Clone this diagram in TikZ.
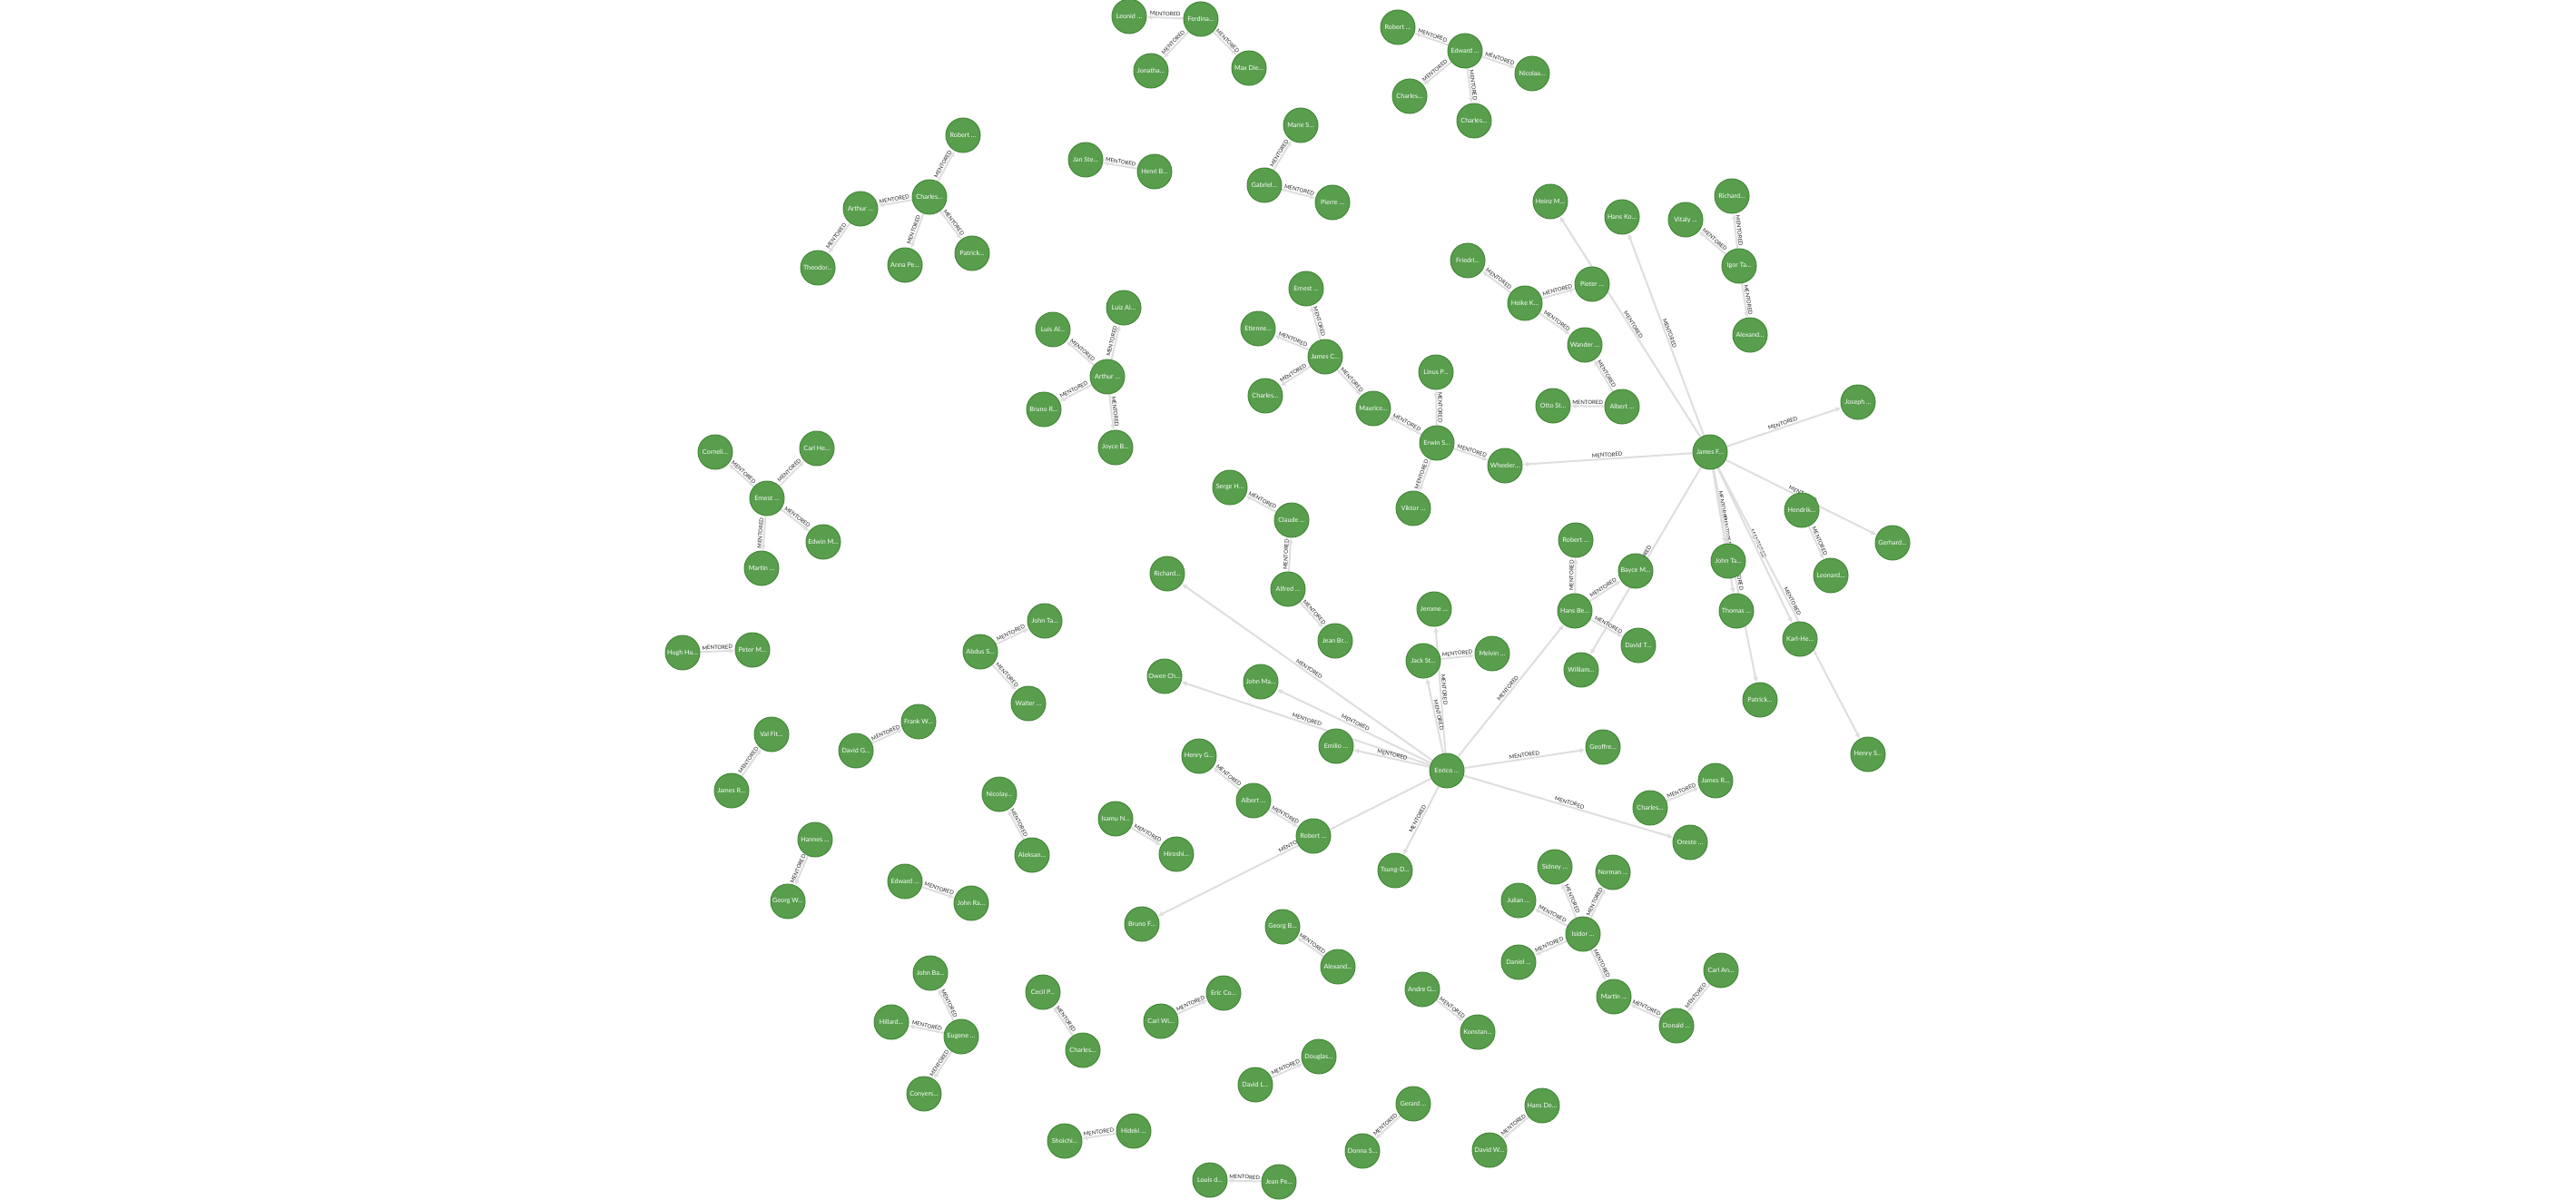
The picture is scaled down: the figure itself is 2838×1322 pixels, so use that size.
\documentclass[tikz,border=0pt]{standalone}
\usepackage{fontspec}
\setmainfont{Lato}
\usetikzlibrary{arrows.meta,backgrounds}
\definecolor{nodegreen}{RGB}{88,158,77}
\definecolor{nodeborder}{RGB}{70,137,58}
\definecolor{relgray}{RGB}{222,222,222}
\definecolor{lblgray}{RGB}{35,35,35}
\begin{document}
\begin{tikzpicture}[x=1pt, y=-1pt, >={Latex[length=6pt, width=6pt]},
  person/.style={circle, draw=nodeborder, line width=1pt, fill=nodegreen, minimum size=38pt,
    inner sep=0pt, text=white, font=\fontsize{7.2}{8}\selectfont},
  rel/.style={->, relgray, line width=2pt},
  lbl/.style={midway, sloped, above, inner sep=1pt, text=lblgray, font=\fontsize{6}{7}\selectfont}]
\useasboundingbox (0,0) rectangle (2838,1322);
% Ferdinand
\node[person] (leonid) at (1244,18) {Leonid …};
\node[person] (ferdina) at (1323,21) {Ferdina…};
\node[person] (jonatha) at (1268,78) {Jonatha…};
\node[person] (maxdie) at (1376,75) {Max Die…};
% Edward
\node[person] (robertE) at (1540,30) {Robert …};
\node[person] (edward) at (1614,56) {Edward …};
\node[person] (nicolaa) at (1688,81) {Nicolaa…};
\node[person] (charlesE1) at (1553,106) {Charles…};
\node[person] (charlesE2) at (1624,133) {Charles…};
% Charles (left top)
\node[person] (robertC) at (1061,149) {Robert …};
\node[person] (charlesC) at (1024,217) {Charles…};
\node[person] (arthurC) at (948,230) {Arthur …};
\node[person] (theodor) at (901,295) {Theodor…};
\node[person] (annape) at (997,292) {Anna Pe…};
\node[person] (patrickC) at (1071,279) {Patrick…};
% Henri / Jan
\node[person] (janste) at (1196,176) {Jan Ste…};
\node[person] (henrib) at (1272,189) {Henri B…};
% Gabriel
\node[person] (maries) at (1433,138) {Marie S…};
\node[person] (gabriel) at (1393,204) {Gabriel…};
\node[person] (pierre) at (1468,223) {Pierre …};
% Igor
\node[person] (vitaly) at (1857,242) {Vitaly …};
\node[person] (richardI) at (1908,216) {Richard…};
\node[person] (igor) at (1916,293) {Igor Ta…};
\node[person] (alexandI) at (1928,369) {Alexand…};
% Heike
\node[person] (friedri) at (1617,287) {Friedri…};
\node[person] (heike) at (1680,334) {Heike K…};
\node[person] (pieter) at (1754,313) {Pieter …};
\node[person] (wander) at (1746,380) {Wander …};
\node[person] (otto) at (1711,447) {Otto St…};
\node[person] (albertH) at (1787,448) {Albert …};
% James F
\node[person] (heinz) at (1708,222) {Heinz M…};
\node[person] (hansko) at (1787,239) {Hans Ko…};
\node[person] (jamesF) at (1884,498) {James F…};
\node[person] (joseph) at (2047,443) {Joseph …};
\node[person] (hendrik) at (1985,562) {Hendrik…};
\node[person] (gerhard) at (2085,598) {Gerhard…};
\node[person] (leonard) at (2017,634) {Leonard…};
\node[person] (johntaF) at (1904,618) {John Ta…};
\node[person] (thomas) at (1913,673) {Thomas …};
\node[person] (karlhe) at (1983,704) {Karl-He…};
\node[person] (patrickF) at (1939,771) {Patrick…};
\node[person] (henrys) at (2058,831) {Henry S…};
\node[person] (william) at (1742,738) {William…};
% James C / Erwin
\node[person] (ernestJ) at (1439,318) {Ernest …};
\node[person] (etienne) at (1386,362) {Etienne…};
\node[person] (jamesC) at (1460,393) {James C…};
\node[person] (charlesJ) at (1394,436) {Charles…};
\node[person] (maurice) at (1513,450) {Maurice…};
\node[person] (linus) at (1582,410) {Linus P…};
\node[person] (erwin) at (1583,488) {Erwin S…};
\node[person] (wheeler) at (1658,513) {Wheeler…};
\node[person] (viktor) at (1557,560) {Viktor …};
% Arthur (Luis)
\node[person] (luis) at (1160,363) {Luis Al…};
\node[person] (luiz) at (1238,339) {Luiz Al…};
\node[person] (arthurL) at (1220,415) {Arthur …};
\node[person] (brunor) at (1150,451) {Bruno R…};
\node[person] (joyce) at (1229,493) {Joyce B…};
% Ernest (left)
\node[person] (corneli) at (788,498) {Corneli…};
\node[person] (carlhe) at (900,494) {Carl He…};
\node[person] (ernestE) at (845,549) {Ernest …};
\node[person] (edwin) at (907,597) {Edwin M…};
\node[person] (martinE) at (839,626) {Martin …};
% Claude
\node[person] (serge) at (1355,537) {Serge H…};
\node[person] (claude) at (1423,573) {Claude …};
\node[person] (alfred) at (1419,649) {Alfred …};
\node[person] (jeanbr) at (1471,706) {Jean Br…};
% Hans Be
\node[person] (robertH) at (1736,595) {Robert …};
\node[person] (bayce) at (1802,629) {Bayce M…};
\node[person] (hansbe) at (1735,673) {Hans Be…};
\node[person] (davidt) at (1805,711) {David T…};
% Enrico
\node[person] (enrico) at (1594,849) {Enrico …};
\node[person] (richardE) at (1286,632) {Richard…};
\node[person] (owen) at (1283,745) {Owen Ch…};
\node[person] (johnma) at (1389,751) {John Ma…};
\node[person] (emilio) at (1472,822) {Emilio …};
\node[person] (jerome) at (1580,671) {Jerome …};
\node[person] (jackst) at (1568,728) {Jack St…};
\node[person] (melvin) at (1644,720) {Melvin …};
\node[person] (geoffre) at (1766,823) {Geoffre…};
\node[person] (oreste) at (1862,928) {Oreste …};
\node[person] (tsung) at (1537,959) {Tsung-D…};
\node[person] (brunof) at (1258,1018) {Bruno F…};
% Albert / Robert
\node[person] (henryg) at (1321,833) {Henry G…};
\node[person] (albertR) at (1381,882) {Albert …};
\node[person] (robertR) at (1447,921) {Robert …};
% Isamu
\node[person] (isamu) at (1229,902) {Isamu N…};
\node[person] (hiroshi) at (1296,941) {Hiroshi…};
% Charles / James R
\node[person] (charlesO) at (1818,890) {Charles…};
\node[person] (jamesRO) at (1890,860) {James R…};
% Isidor
\node[person] (sidney) at (1713,955) {Sidney …};
\node[person] (norman) at (1777,961) {Norman …};
\node[person] (julian) at (1673,992) {Julian …};
\node[person] (isidor) at (1744,1029) {Isidor …};
\node[person] (daniel) at (1673,1060) {Daniel …};
\node[person] (martinI) at (1778,1098) {Martin …};
\node[person] (donald) at (1847,1130) {Donald …};
\node[person] (carlan) at (1896,1069) {Carl An…};
% pairs (bottom)
\node[person] (hansde) at (1699,1218) {Hans De…};
\node[person] (davidw) at (1641,1267) {David W…};
\node[person] (gerard) at (1557,1216) {Gerard …};
\node[person] (donna) at (1501,1268) {Donna S…};
\node[person] (andre) at (1567,1090) {Andre G…};
\node[person] (konstan) at (1628,1137) {Konstan…};
\node[person] (georgb) at (1413,1021) {Georg B…};
\node[person] (alexandG) at (1474,1065) {Alexand…};
\node[person] (davidl) at (1383,1195) {David L…};
\node[person] (douglas) at (1453,1164) {Douglas…};
\node[person] (carlwi) at (1279,1125) {Carl Wi…};
\node[person] (ericco) at (1348,1094) {Eric Co…};
\node[person] (louisd) at (1333,1300) {Louis d…};
\node[person] (jeanpe) at (1409,1302) {Jean Pe…};
\node[person] (shoichi) at (1173,1257) {Shoichi…};
\node[person] (hideki) at (1249,1246) {Hideki …};
\node[person] (cecil) at (1149,1093) {Cecil P…};
\node[person] (charlesCe) at (1193,1157) {Charles…};
% Eugene
\node[person] (johnba) at (1025,1072) {John Ba…};
\node[person] (hillard) at (982,1126) {Hillard…};
\node[person] (eugene) at (1059,1142) {Eugene …};
\node[person] (conyers) at (1018,1205) {Conyers…};
% pairs (left)
\node[person] (edwardJ) at (997,971) {Edward …};
\node[person] (johnra) at (1070,995) {John Ra…};
\node[person] (hannes) at (898,925) {Hannes …};
\node[person] (georgw) at (868,993) {Georg W…};
\node[person] (nicolay) at (1101,875) {Nicolay…};
\node[person] (aleksan) at (1137,942) {Aleksan…};
\node[person] (abdus) at (1080,718) {Abdus S…};
\node[person] (johntaA) at (1151,684) {John Ta…};
\node[person] (walter) at (1133,775) {Walter …};
\node[person] (davidg) at (943,827) {David G…};
\node[person] (frankw) at (1012,795) {Frank W…};
\node[person] (valfit) at (850,809) {Val Fit…};
\node[person] (jamesRV) at (806,871) {James R…};
\node[person] (hugh) at (752,719) {Hugh Hu…};
\node[person] (peterm) at (829,716) {Peter M…};
% Relations
\begin{scope}[on background layer]
\draw[rel] (ferdina) -- node[lbl] {MENTORED} (leonid);
\draw[rel] (ferdina) -- node[lbl] {MENTORED} (jonatha);
\draw[rel] (ferdina) -- node[lbl] {MENTORED} (maxdie);
\draw[rel] (edward) -- node[lbl] {MENTORED} (robertE);
\draw[rel] (edward) -- node[lbl] {MENTORED} (nicolaa);
\draw[rel] (edward) -- node[lbl] {MENTORED} (charlesE1);
\draw[rel] (edward) -- node[lbl] {MENTORED} (charlesE2);
\draw[rel] (charlesC) -- node[lbl] {MENTORED} (robertC);
\draw[rel] (charlesC) -- node[lbl] {MENTORED} (arthurC);
\draw[rel] (arthurC) -- node[lbl] {MENTORED} (theodor);
\draw[rel] (charlesC) -- node[lbl] {MENTORED} (annape);
\draw[rel] (charlesC) -- node[lbl] {MENTORED} (patrickC);
\draw[rel] (henrib) -- node[lbl] {MENTORED} (janste);
\draw[rel] (gabriel) -- node[lbl] {MENTORED} (maries);
\draw[rel] (gabriel) -- node[lbl] {MENTORED} (pierre);
\draw[rel] (igor) -- node[lbl] {MENTORED} (vitaly);
\draw[rel] (igor) -- node[lbl] {MENTORED} (richardI);
\draw[rel] (igor) -- node[lbl] {MENTORED} (alexandI);
\draw[rel] (heike) -- node[lbl] {MENTORED} (friedri);
\draw[rel] (heike) -- node[lbl] {MENTORED} (pieter);
\draw[rel] (heike) -- node[lbl] {MENTORED} (wander);
\draw[rel] (albertH) -- node[lbl] {MENTORED} (wander);
\draw[rel] (albertH) -- node[lbl] {MENTORED} (otto);
\draw[rel] (jamesF) -- node[lbl] {MENTORED} (heinz);
\draw[rel] (jamesF) -- node[lbl] {MENTORED} (hansko);
\draw[rel] (jamesF) -- node[lbl] {MENTORED} (joseph);
\draw[rel] (jamesF) -- node[lbl] {MENTORED} (wheeler);
\draw[rel] (jamesF) -- node[lbl] {MENTORED} (gerhard);
\draw[rel] (hendrik) -- node[lbl] {MENTORED} (leonard);
\draw[rel] (jamesF) -- node[lbl] {MENTORED} (johntaF);
\draw[rel] (jamesF) -- node[lbl] {MENTORED} (thomas);
\draw[rel] (jamesF) -- node[lbl] {MENTORED} (patrickF);
\draw[rel] (jamesF) -- node[lbl] {MENTORED} (karlhe);
\draw[rel] (jamesF) -- node[lbl] {MENTORED} (henrys);
\draw[rel] (jamesF) -- node[lbl] {MENTORED} (william);
\draw[rel] (jamesC) -- node[lbl] {MENTORED} (ernestJ);
\draw[rel] (jamesC) -- node[lbl] {MENTORED} (etienne);
\draw[rel] (jamesC) -- node[lbl] {MENTORED} (charlesJ);
\draw[rel] (jamesC) -- node[lbl] {MENTORED} (maurice);
\draw[rel] (erwin) -- node[lbl] {MENTORED} (maurice);
\draw[rel] (erwin) -- node[lbl] {MENTORED} (linus);
\draw[rel] (erwin) -- node[lbl] {MENTORED} (wheeler);
\draw[rel] (erwin) -- node[lbl] {MENTORED} (viktor);
\draw[rel] (arthurL) -- node[lbl] {MENTORED} (luis);
\draw[rel] (arthurL) -- node[lbl] {MENTORED} (luiz);
\draw[rel] (arthurL) -- node[lbl] {MENTORED} (brunor);
\draw[rel] (arthurL) -- node[lbl] {MENTORED} (joyce);
\draw[rel] (ernestE) -- node[lbl] {MENTORED} (corneli);
\draw[rel] (ernestE) -- node[lbl] {MENTORED} (carlhe);
\draw[rel] (ernestE) -- node[lbl] {MENTORED} (edwin);
\draw[rel] (ernestE) -- node[lbl] {MENTORED} (martinE);
\draw[rel] (claude) -- node[lbl] {MENTORED} (serge);
\draw[rel] (alfred) -- node[lbl] {MENTORED} (claude);
\draw[rel] (alfred) -- node[lbl] {MENTORED} (jeanbr);
\draw[rel] (hansbe) -- node[lbl] {MENTORED} (robertH);
\draw[rel] (hansbe) -- node[lbl] {MENTORED} (bayce);
\draw[rel] (hansbe) -- node[lbl] {MENTORED} (davidt);
\draw[rel] (enrico) -- node[lbl] {MENTORED} (richardE);
\draw[rel] (enrico) -- node[lbl] {MENTORED} (owen);
\draw[rel] (enrico) -- node[lbl] {MENTORED} (johnma);
\draw[rel] (enrico) -- node[lbl] {MENTORED} (emilio);
\draw[rel] (enrico) -- node[lbl] {MENTORED} (jerome);
\draw[rel] (enrico) -- node[lbl] {MENTORED} (jackst);
\draw[rel] (jackst) -- node[lbl] {MENTORED} (melvin);
\draw[rel] (enrico) -- node[lbl] {MENTORED} (hansbe);
\draw[rel] (enrico) -- node[lbl] {MENTORED} (geoffre);
\draw[rel] (enrico) -- node[lbl] {MENTORED} (oreste);
\draw[rel] (enrico) -- node[lbl] {MENTORED} (tsung);
\draw[rel] (enrico) -- node[lbl] {MENTORED} (brunof);
\draw[rel] (albertR) -- node[lbl] {MENTORED} (henryg);
\draw[rel] (albertR) -- node[lbl] {MENTORED} (robertR);
\draw[rel] (isamu) -- node[lbl] {MENTORED} (hiroshi);
\draw[rel] (charlesO) -- node[lbl] {MENTORED} (jamesRO);
\draw[rel] (isidor) -- node[lbl] {MENTORED} (sidney);
\draw[rel] (isidor) -- node[lbl] {MENTORED} (norman);
\draw[rel] (isidor) -- node[lbl] {MENTORED} (julian);
\draw[rel] (isidor) -- node[lbl] {MENTORED} (daniel);
\draw[rel] (isidor) -- node[lbl] {MENTORED} (martinI);
\draw[rel] (donald) -- node[lbl] {MENTORED} (martinI);
\draw[rel] (carlan) -- node[lbl] {MENTORED} (donald);
\draw[rel] (hansde) -- node[lbl] {MENTORED} (davidw);
\draw[rel] (gerard) -- node[lbl] {MENTORED} (donna);
\draw[rel] (andre) -- node[lbl] {MENTORED} (konstan);
\draw[rel] (alexandG) -- node[lbl] {MENTORED} (georgb);
\draw[rel] (davidl) -- node[lbl] {MENTORED} (douglas);
\draw[rel] (carlwi) -- node[lbl] {MENTORED} (ericco);
\draw[rel] (jeanpe) -- node[lbl] {MENTORED} (louisd);
\draw[rel] (hideki) -- node[lbl] {MENTORED} (shoichi);
\draw[rel] (charlesCe) -- node[lbl] {MENTORED} (cecil);
\draw[rel] (eugene) -- node[lbl] {MENTORED} (johnba);
\draw[rel] (eugene) -- node[lbl] {MENTORED} (hillard);
\draw[rel] (eugene) -- node[lbl] {MENTORED} (conyers);
\draw[rel] (edwardJ) -- node[lbl] {MENTORED} (johnra);
\draw[rel] (hannes) -- node[lbl] {MENTORED} (georgw);
\draw[rel] (aleksan) -- node[lbl] {MENTORED} (nicolay);
\draw[rel] (abdus) -- node[lbl] {MENTORED} (johntaA);
\draw[rel] (abdus) -- node[lbl] {MENTORED} (walter);
\draw[rel] (davidg) -- node[lbl] {MENTORED} (frankw);
\draw[rel] (jamesRV) -- node[lbl] {MENTORED} (valfit);
\draw[rel] (hugh) -- node[lbl] {MENTORED} (peterm);
\end{scope}
\end{tikzpicture}
\end{document}
